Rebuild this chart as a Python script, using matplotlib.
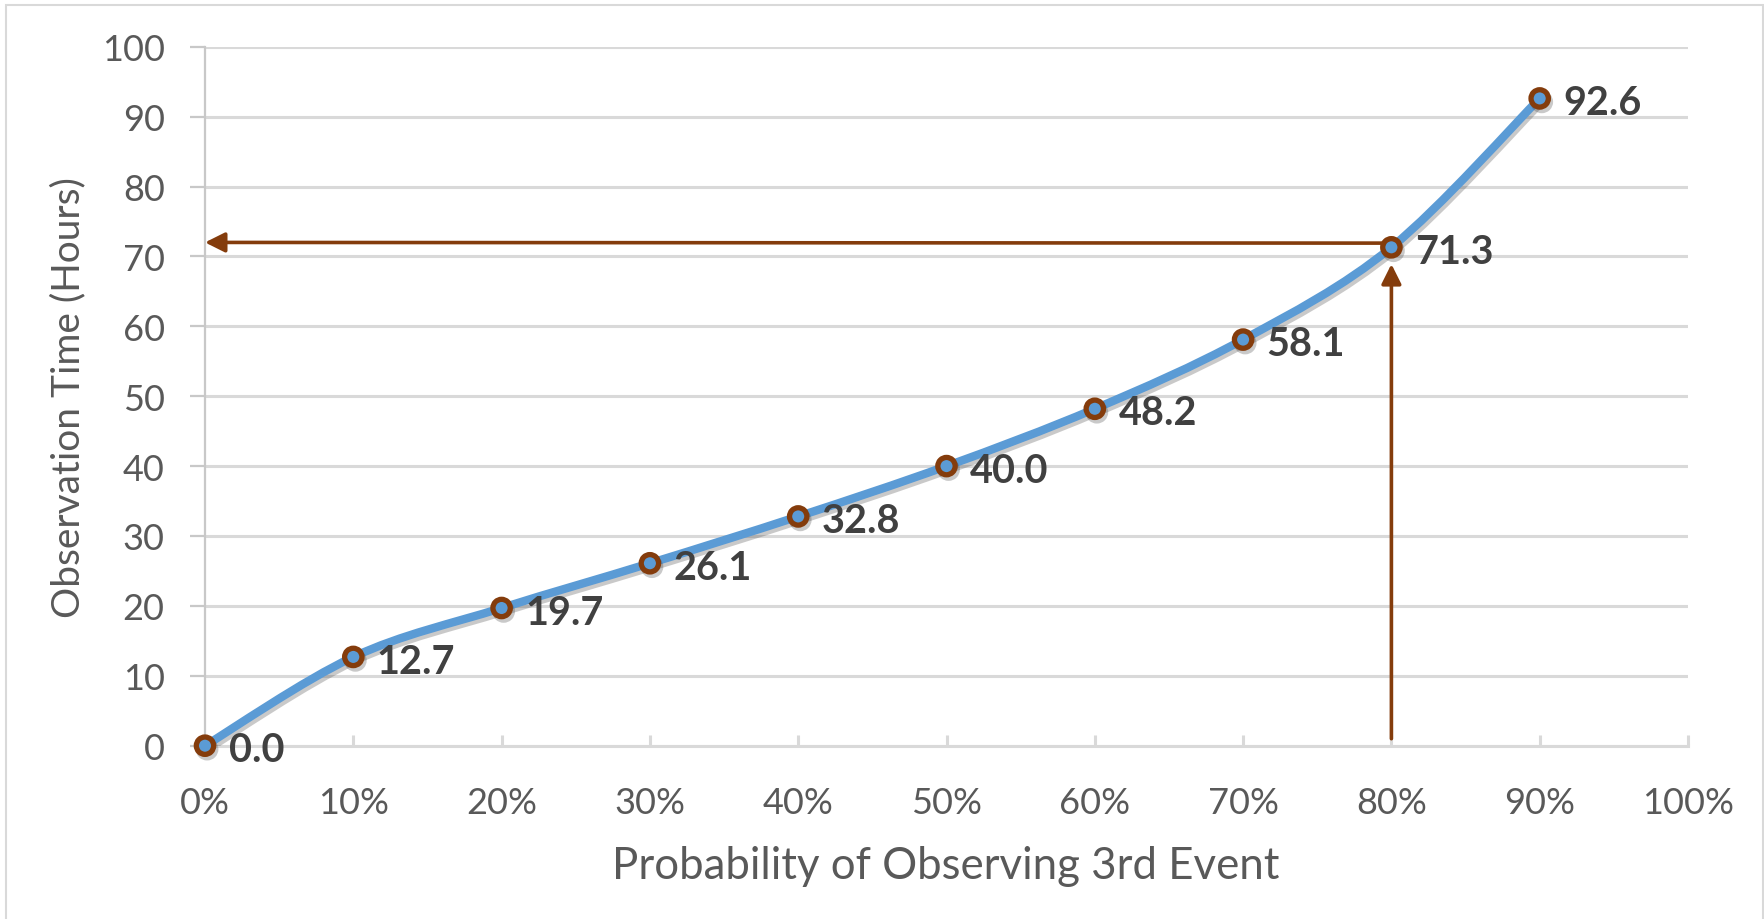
import matplotlib.pyplot as plt
import numpy as np
from matplotlib.path import Path
from matplotlib.patches import PathPatch, Rectangle
import matplotlib.patheffects as pe
from matplotlib.ticker import PercentFormatter

plt.rcParams['font.family'] = ['Lato', 'DejaVu Sans']

prob = [0.0, 0.1, 0.2, 0.3, 0.4, 0.5, 0.6, 0.7, 0.8, 0.9]
hours = [0.0, 12.7, 19.7, 26.1, 32.8, 40.0, 48.2, 58.1, 71.3, 92.6]
x_ticks = [0.0, 0.1, 0.2, 0.3, 0.4, 0.5, 0.6, 0.7, 0.8, 0.9, 1.0]
y_ticks = [0, 10, 20, 30, 40, 50, 60, 70, 80, 90, 100]
target = 8

BLUE = '#5B9BD5'
BROWN = '#843C0C'
GRID = '#D9D9D9'
TICK_TXT = '#595959'
LABEL_TXT = '#404040'

fig = plt.figure(figsize=(17.65, 9.2), dpi=100)
ax = fig.add_axes([205 / 1765, 1 - 746.7 / 920, 1483 / 1765, 699 / 920])

# outer chart border
fig.patches.append(Rectangle((6 / 1765, -0.05), 1757 / 1765, 1.05 - 6 / 920,
                             transform=fig.transFigure, fill=False,
                             edgecolor=GRID, linewidth=1.5, zorder=0))

ax.set_xlim(0, 1)
ax.set_ylim(0, 100)
ax.set_xticks(x_ticks)
ax.set_yticks(y_ticks)
ax.xaxis.set_major_formatter(PercentFormatter(1.0, decimals=0))
ax.grid(axis='y', color=GRID, linewidth=2.2, zorder=0)
ax.set_axisbelow(True)

for side in ('top', 'right'):
    ax.spines[side].set_visible(False)
ax.spines['left'].set_color('#C8C8C8')
ax.spines['left'].set_linewidth(1.6)
ax.spines['bottom'].set_color(GRID)
ax.spines['bottom'].set_linewidth(2.2)

ax.tick_params(axis='y', direction='out', length=11, width=1.6, color='#C8C8C8',
               labelsize=26, labelcolor=TICK_TXT, pad=18)
ax.tick_params(axis='x', direction='in', length=8, width=2.2, color=GRID,
               labelsize=26, labelcolor=TICK_TXT, pad=29)

# smoothed series: Bezier segments with Catmull-Rom style control points
pts = np.column_stack([prob, hours])
verts = [pts[0]]
codes = [Path.MOVETO]
n = len(pts)
for i in range(n - 1):
    p0 = pts[max(i - 1, 0)]
    p1 = pts[i]
    p2 = pts[i + 1]
    p3 = pts[min(i + 2, n - 1)]
    verts += [p1 + (p2 - p0) / 6, p2 - (p3 - p1) / 6, p2]
    codes += [Path.CURVE4] * 3
shadow = pe.SimpleLineShadow(offset=(1.5, -2.5), alpha=0.28, shadow_color='#404040')
curve = PathPatch(Path(verts, codes), facecolor='none', edgecolor=BLUE,
                  linewidth=6, capstyle='round', joinstyle='round', zorder=3,
                  path_effects=[shadow, pe.Normal()])
ax.add_patch(curve)

ax.plot(prob, hours, linestyle='none', marker='o', markersize=12.5,
        markerfacecolor=BLUE, markeredgecolor=BROWN, markeredgewidth=3.8,
        zorder=5, clip_on=False, path_effects=[shadow, pe.Normal()])

for x, y in zip(prob, hours):
    ax.annotate(f'{y:.1f}', (x, y), xytext=(17, -3), textcoords='offset points',
                ha='left', va='center', fontsize=28.5, fontweight='bold',
                color=LABEL_TXT, zorder=6)

# read-off arrows at the 80% point
tx, ty = prob[target], hours[target]
arrow = dict(arrowstyle='-|>,head_length=0.6,head_width=0.3', color=BROWN,
             linewidth=2.6, mutation_scale=20, shrinkA=0, shrinkB=0)
ax.annotate('', xy=(0, ty + 0.7), xytext=(tx, ty + 0.6), arrowprops=arrow, zorder=4,
            annotation_clip=False)
ax.annotate('', xy=(tx, ty - 2.4), xytext=(tx, 1.0), arrowprops=arrow, zorder=4)

ax.set_xlabel('Probability of Observing 3rd Event', fontsize=31.5, color=TICK_TXT)
ax.set_ylabel('Observation Time (Hours)', fontsize=28, color=TICK_TXT)
ax.xaxis.label.set_va('center')
ax.yaxis.label.set_va('center')
ax.xaxis.set_label_coords(0.4997, -0.172)
ax.yaxis.set_label_coords(-0.0924, 0.5)

fig.savefig('out.png', dpi=100)
